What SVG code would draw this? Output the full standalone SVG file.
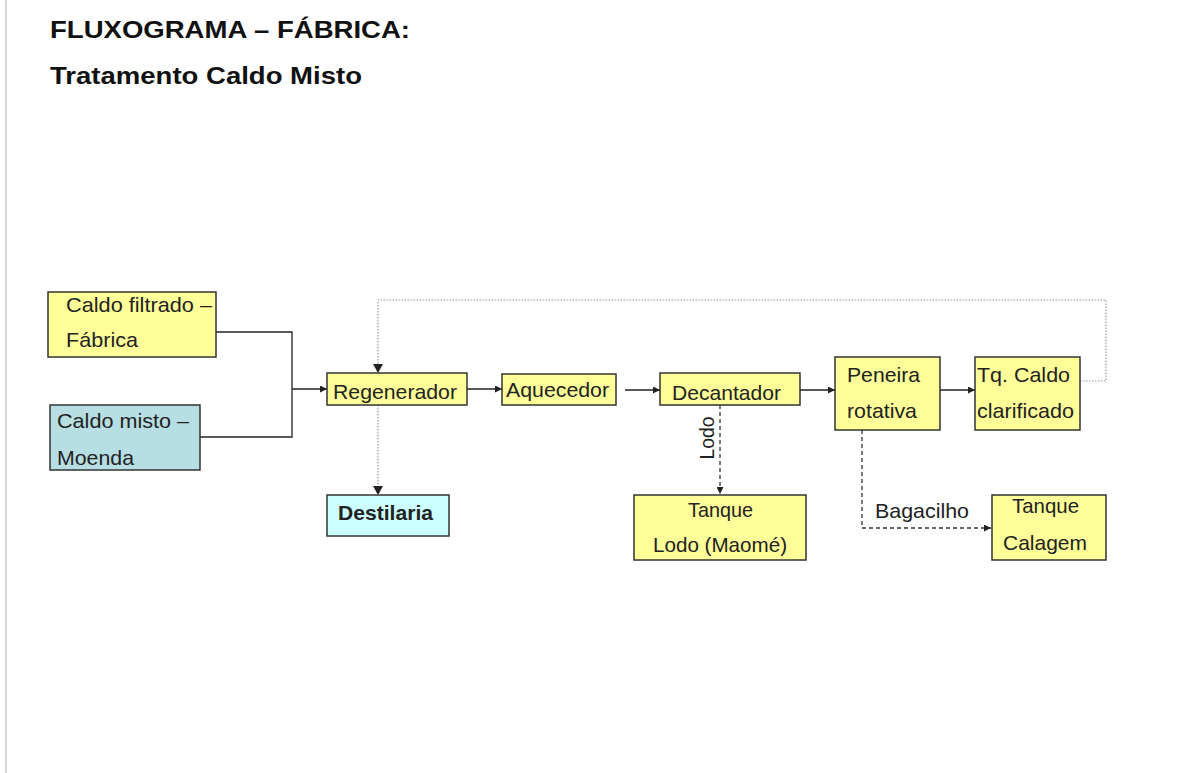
<svg xmlns="http://www.w3.org/2000/svg" width="1202" height="773" viewBox="0 0 1202 773">
<defs>
<marker id="ah" viewBox="0 0 10 10" refX="10" refY="5" markerWidth="7" markerHeight="7" markerUnits="userSpaceOnUse" orient="auto"><path d="M0,0 L10,5 L0,10 z" fill="#222"/></marker>
</defs>
<style>
.box{stroke:#333;stroke-width:1.5}
.y{fill:#FFFF99}
.t{font-family:"Liberation Sans",Arial,sans-serif;font-size:21px;fill:#222}
.h{font-family:"Liberation Sans",Arial,sans-serif;font-weight:bold;font-size:23px;fill:#111}
.solid{fill:none;stroke:#222;stroke-width:1.3}
.dot{fill:none;stroke:#999;stroke-width:1.2;stroke-dasharray:1.5 1.5}
.dash{fill:none;stroke:#333;stroke-width:1.3;stroke-dasharray:4 3}
</style>
<rect width="1202" height="773" fill="#fff"/>
<line x1="6" y1="0" x2="6" y2="773" stroke="#d8d8d8" stroke-width="2"/>
<text class="h" x="50" y="38" textLength="360" lengthAdjust="spacingAndGlyphs">FLUXOGRAMA – FÁBRICA:</text>
<text class="h" x="50" y="84" textLength="312" lengthAdjust="spacingAndGlyphs">Tratamento Caldo Misto</text>
<g id="connectors">
<polyline class="solid" points="216,332 292,332 292,437 200,437"/>
<line class="solid" x1="292" y1="389" x2="327" y2="389" marker-end="url(#ah)"/>
<line class="solid" x1="467" y1="389" x2="502" y2="389" marker-end="url(#ah)"/>
<line class="solid" x1="625" y1="390" x2="660" y2="390" marker-end="url(#ah)"/>
<line class="solid" x1="800" y1="390" x2="835" y2="390" marker-end="url(#ah)"/>
<line class="solid" x1="940" y1="390" x2="975" y2="390" marker-end="url(#ah)"/>
<polyline class="dot" points="1080,381 1106,381 1106,300 378,300 378,372"/>
<path d="M373,364 L378,373 L383,364 z" fill="#222"/>
<line class="dot" x1="378" y1="405" x2="378" y2="494"/>
<path d="M373,486 L378,495 L383,486 z" fill="#222"/>
<line class="dash" x1="720" y1="405" x2="720" y2="494" marker-end="url(#ah)"/>
<text class="t" transform="translate(714,438) rotate(-90)" text-anchor="middle" textLength="43" lengthAdjust="spacingAndGlyphs">Lodo</text>
<polyline class="dash" points="862,430 862,528 991,528" marker-end="url(#ah)"/>
<text class="t" x="875" y="518" textLength="94" lengthAdjust="spacingAndGlyphs">Bagacilho</text>
</g>
<g id="caldo-filtrado"><rect class="box y" x="48" y="292" width="168" height="65"/><text class="t" x="66" y="312" textLength="146" lengthAdjust="spacingAndGlyphs">Caldo filtrado –</text><text class="t" x="66" y="347" textLength="72" lengthAdjust="spacingAndGlyphs">Fábrica</text></g>
<g id="caldo-misto"><rect class="box" fill="#B7DEE3" x="50" y="405" width="150" height="65"/><text class="t" x="57" y="428" textLength="132" lengthAdjust="spacingAndGlyphs">Caldo misto –</text><text class="t" x="57" y="465" textLength="77" lengthAdjust="spacingAndGlyphs">Moenda</text></g>
<g id="regenerador"><rect class="box y" x="327" y="373" width="140" height="32"/><text class="t" x="333" y="399" textLength="124" lengthAdjust="spacingAndGlyphs">Regenerador</text></g>
<g id="aquecedor"><rect class="box y" x="502" y="374" width="114" height="31"/><text class="t" x="506" y="397" textLength="103" lengthAdjust="spacingAndGlyphs">Aquecedor</text></g>
<g id="decantador"><rect class="box y" x="660" y="373" width="140" height="32"/><text class="t" x="672" y="400" textLength="109" lengthAdjust="spacingAndGlyphs">Decantador</text></g>
<g id="peneira"><rect class="box y" x="835" y="357" width="105" height="73"/><text class="t" x="847" y="382" textLength="73" lengthAdjust="spacingAndGlyphs">Peneira</text><text class="t" x="847" y="418" textLength="70" lengthAdjust="spacingAndGlyphs">rotativa</text></g>
<g id="tq-caldo"><rect class="box y" x="975" y="357" width="105" height="73"/><text class="t" x="977" y="382" textLength="93" lengthAdjust="spacingAndGlyphs">Tq. Caldo</text><text class="t" x="977" y="418" textLength="97" lengthAdjust="spacingAndGlyphs">clarificado</text></g>
<g id="destilaria"><rect class="box" fill="#CCFFFF" x="327" y="495" width="122" height="41"/><text class="t" x="338" y="520" font-weight="bold" textLength="95" lengthAdjust="spacingAndGlyphs">Destilaria</text></g>
<g id="tanque-lodo"><rect class="box y" x="634" y="495" width="172" height="65"/><text class="t" x="688" y="517" textLength="65" lengthAdjust="spacingAndGlyphs">Tanque</text><text class="t" x="653" y="552" textLength="134" lengthAdjust="spacingAndGlyphs">Lodo (Maomé)</text></g>
<g id="tanque-calagem"><rect class="box y" x="992" y="495" width="114" height="65"/><text class="t" x="1012" y="513" textLength="67" lengthAdjust="spacingAndGlyphs">Tanque</text><text class="t" x="1003" y="550" textLength="84" lengthAdjust="spacingAndGlyphs">Calagem</text></g>
</svg>
